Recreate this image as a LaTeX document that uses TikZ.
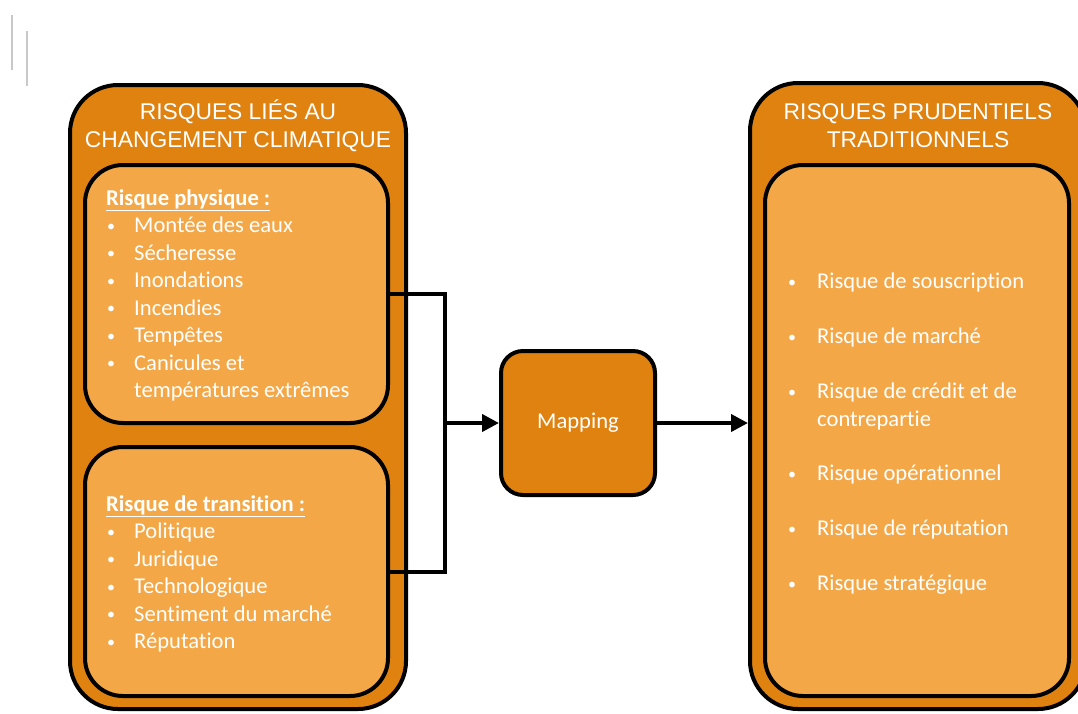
\documentclass[tikz,border=0pt]{standalone}
\usepackage{fontspec}
\setmainfont{Carlito}[Ligatures=NoCommon]
\newfontfamily\arialf{Liberation Sans}
\usetikzlibrary{arrows.meta}
\definecolor{darkor}{RGB}{224,130,16}
\definecolor{lightor}{RGB}{243,167,70}
\definecolor{greyl}{RGB}{200,200,200}
\newcommand\smbul{\raisebox{1.5pt}{\fontsize{16}{16}\selectfont\textbullet}}
\newcommand\bulA{\makebox[28pt][l]{\hspace{1pt}\smbul}}
\newcommand\bulB{\makebox[30pt][l]{\hspace{1pt}\smbul}}
\newcommand\noB{\hspace{28pt}}
\begin{document}
\begin{tikzpicture}[x=1pt,y=-1pt,
  outerbox/.style={draw=black, line width=4pt, fill=darkor, rounded corners=48pt, inner sep=0pt},
  innerbox/.style={draw=black, line width=4pt, fill=lightor, rounded corners=38pt, inner sep=0pt},
  mapbox/.style={draw=black, line width=4pt, fill=darkor, rounded corners=22pt, inner sep=0pt,
    text=white, font=\fontsize{22.6}{27}\selectfont},
  title/.style={text=white, font=\arialf\fontsize{22.8}{28}\selectfont, anchor=base, inner sep=0pt},
  body/.style={text=white, font=\fontsize{22.6}{27}\selectfont, anchor=base west, inner sep=0pt},
  conn/.style={draw=black, line width=4pt},
  arr/.style={draw=black, line width=4pt, -{Triangle[length=17pt,width=17pt]}},
  greyline/.style={draw=greyl, line width=1.2pt}
]
\useasboundingbox (0,0) rectangle (1078,713);
\clip (0,0) rectangle (1078,713);
\draw[greyline] (12,15) -- (12,70);
\draw[greyline] (27,31) -- (27,86);
% outer boxes
\node[outerbox, minimum width=336pt, minimum height=624pt] (L) at (238,397) {};
\node[outerbox, minimum width=336pt, minimum height=626pt] (R) at (918,396) {};
% titles
\node[title] (lt1) at (238,119) {RISQUES LIÉS AU};
\node[title] (lt2) at (238,147) {CHANGEMENT CLIMATIQUE};
\node[title] (rt1) at (918,119) {RISQUES PRUDENTIELS};
\node[title] (rt2) at (918,147) {TRADITIONNELS};
% inner boxes
\node[innerbox, minimum width=303pt, minimum height=258pt] (P) at (236.5,294) {};
\node[innerbox, minimum width=303pt, minimum height=249pt] (T) at (236.5,571.5) {};
\node[innerbox, minimum width=304pt, minimum height=531pt] (RI) at (917,430.5) {};
% mapping
\node[mapbox, minimum width=154pt, minimum height=144pt] (M) at (578,423) {Mapping};
% connectors
\coordinate (J) at (445,423);
\draw[conn] (P.east) -| (J);
\draw[conn] (T.east) -| (J);
\draw[arr] (J) -- (M.west);
\draw[arr] (M.east) -- (M.east -| R.west);
% physical risk text
\node[body] (ph0) at (106,205) {\textbf{\underline{Risque physique :}}};
\node[body] (ph1) at (106,232.5) {\bulA Montée des eaux};
\node[body] (ph2) at (106,260) {\bulA Sécheresse};
\node[body] (ph3) at (106,287.5) {\bulA Inondations};
\node[body] (ph4) at (106,315) {\bulA Incendies};
\node[body] (ph5) at (106,342.5) {\bulA Tempêtes};
\node[body] (ph6) at (106,370) {\bulA Canicules et};
\node[body] (ph7) at (106,397.5) {\noB températures extrêmes};
% transition risk text
\node[body] (tr0) at (106,511) {\textbf{\underline{Risque de transition :}}};
\node[body] (tr1) at (106,538.5) {\bulA Politique};
\node[body] (tr2) at (106,566) {\bulA Juridique};
\node[body] (tr3) at (106,593.5) {\bulA Technologique};
\node[body] (tr4) at (106,621) {\bulA Sentiment du marché};
\node[body] (tr5) at (106,648.5) {\bulA Réputation};
% right list
\node[body] (r1) at (787,288.5) {\bulB Risque de souscription};
\node[body] (r2) at (787,343.5) {\bulB Risque de marché};
\node[body] (r3) at (787,398.5) {\bulB Risque de crédit et de};
\node[body] (r3b) at (787,426) {\hspace{30pt}contrepartie};
\node[body] (r4) at (787,480.5) {\bulB Risque opérationnel};
\node[body] (r5) at (787,535.5) {\bulB Risque de réputation};
\node[body] (r6) at (787,590.5) {\bulB Risque stratégique};
\end{tikzpicture}
\end{document}
